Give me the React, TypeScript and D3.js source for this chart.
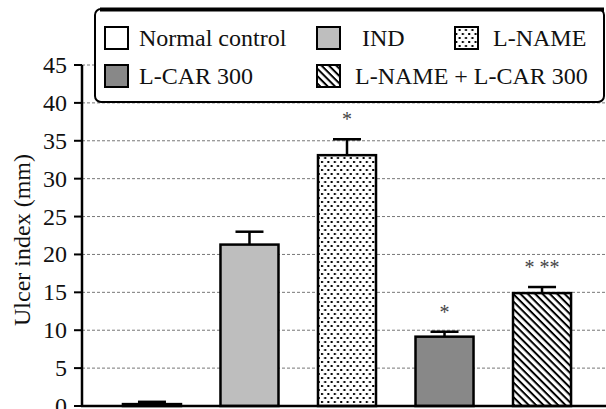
import React from "react";
import * as d3 from "d3";

const categories = ["Normal control", "IND", "L-NAME", "L-CAR 300", "L-NAME + L-CAR 300"];
const means = [0.25, 21.3, 33.1, 9.15, 14.9];
const errors = [0.3, 1.7, 2.1, 0.65, 0.8];
const marks = ["", "", "*", "*", "* **"];
const yTicks = [0, 5, 10, 15, 20, 25, 30, 35, 40, 45];
const fills = ["#ffffff", "#bebebe", "url(#dots)", "#888888", "url(#stripes)"];

const W = 606;
const H = 409;
const FONT = "Liberation Serif, Tinos, Times New Roman, DejaVu Serif, serif";

export default function App() {
  const x = d3
    .scaleBand<string>()
    .domain(categories)
    .range([82, 612])
    .paddingInner(0.405)
    .paddingOuter(0.42);
  const y = d3.scaleLinear().domain([0, 45]).range([406, 65]);
  const bw = x.bandwidth();

  const legendItems = [
    { i: 0, sx: 105, sy: 27, tx: 139 },
    { i: 1, sx: 317, sy: 27, tx: 362 },
    { i: 2, sx: 455, sy: 27, tx: 493 },
    { i: 3, sx: 105, sy: 65, tx: 139 },
    { i: 4, sx: 317, sy: 65, tx: 355 },
  ];

  return (
    <svg
      width={W}
      height={H}
      style={{ position: "absolute", left: 0, top: 0, background: "#fff", fontFamily: FONT }}
    >
      <defs>
        <pattern id="dots" patternUnits="userSpaceOnUse" width={6.4} height={8}>
          <rect width={6.4} height={8} fill="#fff" />
          <rect x={1} y={1} width={2} height={2} fill="#000" />
          <rect x={4.2} y={5} width={2} height={2} fill="#000" />
        </pattern>
        <pattern
          id="stripes"
          patternUnits="userSpaceOnUse"
          width={6}
          height={5.2}
          patternTransform="rotate(45)"
        >
          <rect width={6} height={5.2} fill="#fff" />
          <line x1={0} y1={1} x2={6} y2={1} stroke="#000" strokeWidth={2} />
        </pattern>
      </defs>

      {/* gridlines */}
      {yTicks
        .filter((t) => t > 0)
        .map((t) => (
          <line
            key={"g" + t}
            x1={82}
            x2={W}
            y1={y(t)}
            y2={y(t)}
            stroke="#777"
            strokeWidth={1}
            strokeDasharray="3,2"
          />
        ))}

      {/* bars */}
      {categories.map((c, i) => {
        const x0 = x(c)!;
        const cx = x0 + bw / 2;
        const top = y(means[i]);
        const capY = y(means[i] + errors[i]);
        return (
          <g key={c}>
            <rect
              x={x0}
              y={top}
              width={bw}
              height={y(0) - top}
              fill={fills[i]}
              stroke="#000"
              strokeWidth={2.5}
            />
            <line x1={cx} x2={cx} y1={top} y2={capY} stroke="#000" strokeWidth={2.5} />
            <line
              x1={cx - 14}
              x2={cx + 14}
              y1={capY}
              y2={capY}
              stroke="#000"
              strokeWidth={2.5}
            />
            {marks[i] && (
              <text
                x={cx}
                y={capY - 13}
                textAnchor="middle"
                fontSize={20}
                fill="#444"
                style={{ whiteSpace: "pre" }}
              >
                {marks[i]}
              </text>
            )}
          </g>
        );
      })}

      {/* axes */}
      <line x1={82} x2={82} y1={y(45)} y2={y(0)} stroke="#000" strokeWidth={2.5} />
      <line x1={81} x2={W} y1={y(0)} y2={y(0)} stroke="#000" strokeWidth={2.5} />
      {yTicks.map((t) => (
        <g key={"t" + t}>
          <line x1={74} x2={82} y1={y(t)} y2={y(t)} stroke="#000" strokeWidth={2} />
          <text
            x={67}
            y={y(t) + 8}
            textAnchor="end"
            fontSize={24}
            fill="#111"
          >
            {t}
          </text>
        </g>
      ))}
      <text
        transform="translate(30,240) rotate(-90)"
        textAnchor="middle"
        fontSize={24}
        fill="#111"
      >
        Ulcer index (mm)
      </text>

      {/* legend */}
      <rect
        x={95}
        y={9}
        width={509}
        height={93}
        rx={6}
        fill="#fff"
        stroke="#000"
        strokeWidth={2}
      />
      <line x1={100} x2={604} y1={9.5} y2={9.5} stroke="#000" strokeWidth={4} />
      {legendItems.map((it) => (
        <g key={"l" + it.i}>
          <rect
            x={it.sx}
            y={it.sy}
            width={23}
            height={22}
            fill={fills[it.i]}
            stroke="#000"
            strokeWidth={2}
          />
          <text x={it.tx} y={it.sy + 19} fontSize={24} fill="#111">
            {categories[it.i]}
          </text>
        </g>
      ))}
    </svg>
  );
}
